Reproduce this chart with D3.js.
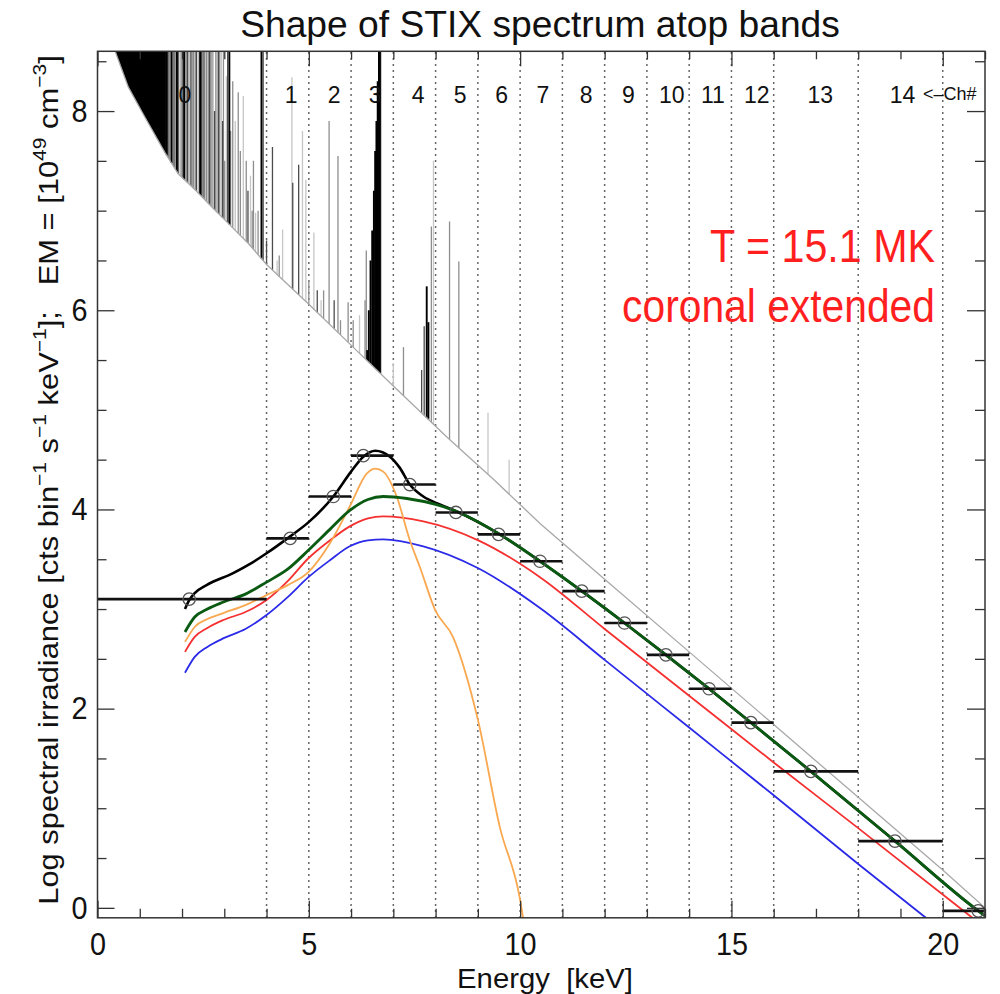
<!DOCTYPE html>
<html><head><meta charset="utf-8">
<script src="https://cdn.jsdelivr.net/npm/d3@7"></script>
<style>
body{margin:0;background:#fff}
svg{display:block}
text{font-family:"Liberation Sans",Arial,Helvetica,sans-serif}
</style>
</head><body>
<svg id="chart" width="1000" height="994"></svg>
<script>
// ---------------- data ----------------
const xMajorTicks = [0, 5, 10, 15, 20];
const xMinorTicks = [1,2,3,4,6,7,8,9,11,12,13,14,16,17,18,19,21];
const yMajorTicks = [0, 2, 4, 6, 8];
const yMinorTicks = [0.5,1,1.5,2.5,3,3.5,4.5,5,5.5,6.5,7,7.5,8.5];

const channelEdges = [4,5,6,7,8,9,10,11,12,13,14,15,16,18,20];
const channelNames = ["0","1","2","3","4","5","6","7","8","9","10","11","12","13","14"];
const channelLabelE = [2.07,4.58,5.60,6.57,7.59,8.58,9.56,10.54,11.56,12.56,13.59,14.56,15.60,17.10,19.05];

// measured counts per energy bin (log)
const binLo   = [0,4,5,6,7,8,9,10,11,12,13,14,15,16,18,20];
const binHi   = [4,5,6,7,8,9,10,11,12,13,14,15,16,18,20,21];
const binMeanE = [2.17,4.56,5.58,6.29,7.39,8.48,9.49,10.47,11.46,12.47,13.45,14.47,15.46,16.88,18.87,20.84];
const binCounts = [3.10,3.71,4.13,4.54,4.25,3.97,3.75,3.48,3.18,2.86,2.54,2.20,1.86,1.37,0.67,-0.03];

// continuum of the photon spectrum (lower envelope of the line spectrum)
const contE = [0.30,0.41,0.73,1.12,1.60,1.91,2.31,2.70,3.10,3.57,4.0,5.0,6.0,7.0,8.26,9.4,10.47,12.0,14.0,16.0,18.0,20.0,21.0];
const contV = [8.95,8.61,8.24,7.94,7.58,7.37,7.21,7.04,6.87,6.67,6.46,6.06,5.65,5.24,4.73,4.29,3.86,3.30,2.57,1.84,1.11,0.38,0.0];

// blended (saturated) low-energy line region
const blendedBand = [0.30, 1.62];

// individual emission lines: energy, peak (log), intensity class 0..3
const lineE = [1.66,1.72,1.78,1.88,1.95,2.02,2.10,2.18,2.24,2.31,
               2.38,2.43,2.55,2.62,2.68,2.74,2.86,2.93,2.98,3.05,
               3.12,3.20,3.33,3.45,3.52,3.62,3.69,3.74,3.80,3.88,
               3.92,4.14,4.25,4.38,4.60,4.62,4.76,4.85,4.93,5.12,
               5.29,5.48,5.69,5.93,6.33,6.36,6.38,6.42,6.46,6.50,
               6.54,6.57,6.60,6.63,6.66,6.68,6.70,7.00,7.24,7.67,
               7.73,7.79,7.83,7.90,7.95,8.33,8.55,9.24,9.74,
               1.64,1.69,1.75,1.81,1.84,1.91,1.98,2.05,2.07,2.13,
               2.15,2.21,2.27,2.34,2.41,2.46,2.49,2.52,2.58,2.65,
               2.71,2.77,2.80,2.83,2.89,2.96,3.01,3.08,3.15,3.26,
               3.38,3.56,3.66,4.00,4.30,5.00,5.20,5.35,5.60,5.75,
               6.05,6.20];
const lineTop = [8.6,8.6,8.6,8.6,8.6,8.6,8.6,8.6,8.6,8.6,
                 8.6,8.6,8.6,8.6,8.6,8.6,8.6,8.6,8.6,8.35,
                 8.6,8.3,8.19,8.15,7.5,7.35,7.5,6.98,7.0,8.6,
                 8.6,7.64,6.5,6.81,8.34,7.28,7.46,7.8,7.31,6.78,
                 6.1,7.9,7.55,6.08,6.1,6.6,5.6,6.0,6.5,6.8,
                 7.2,7.6,7.9,8.3,8.6,8.6,8.6,5.47,5.63,5.40,
                 5.84,6.24,5.88,6.84,7.5,6.89,6.49,4.97,4.5,
                 8.6,8.6,8.6,8.6,8.6,8.6,8.6,8.6,8.6,8.6,
                 8.6,8.6,8.6,8.6,8.6,8.6,8.6,8.6,8.6,8.6,
                 8.6,8.0,8.6,8.6,8.6,7.9,7.5,8.6,7.8,7.9,
                 7.6,7.2,7.0,6.7,6.55,6.3,6.2,6.2,6.1,5.9,
                 5.9,5.95];
const lineClass = [1,0,1,3,0,2,1,0,1,1,
                   0,3,0,1,1,0,2,0,1,0,
                   3,1,1,0,1,0,1,0,1,3,
                   2,2,0,0,0,2,2,0,0,0,
                   0,1,1,1,1,1,3,3,3,3,
                   3,3,3,3,3,3,2,0,1,2,
                   2,3,3,1,0,1,1,0,0,
                   3,2,3,2,1,2,1,3,1,2,
                   0,2,1,2,1,2,1,2,1,2,
                   1,2,1,0,1,2,1,2,1,0,
                   1,2,1,2,1,1,2,1,2,1,
                   1,0];

// model count spectra (keV, log)
const totalCurve = [[2.07,3.00],[2.17,3.09],[2.30,3.16],[2.58,3.24],[3.21,3.36],[3.60,3.45],[4.00,3.56],[4.56,3.73],[4.99,3.87],[5.58,4.13],[6.00,4.38],[6.29,4.53],[6.57,4.59],[6.92,4.53],[7.15,4.42],[7.39,4.25],[7.71,4.13],[8.10,4.05],[8.50,3.98],[9.48,3.76],[10.47,3.48],[11.46,3.18],[12.47,2.86],[13.45,2.54],[14.47,2.20],[15.46,1.86],[16.88,1.37],[18.87,0.67],[20.84,-0.03],[21.0,-0.08]];
const greenCurve = [[2.07,2.77],[2.30,2.92],[2.60,3.00],[2.98,3.07],[3.50,3.15],[4.00,3.27],[4.50,3.40],[4.99,3.59],[5.50,3.80],[5.97,3.99],[6.40,4.10],[6.76,4.13],[7.32,4.11],[8.00,4.05],[8.50,3.98],[9.48,3.76],[10.47,3.48],[11.46,3.18],[12.47,2.86],[13.45,2.54],[14.47,2.20],[15.46,1.86],[16.88,1.37],[18.87,0.67],[20.84,-0.03],[21.0,-0.08]];
const redCurve = [[2.07,2.57],[2.30,2.72],[2.60,2.81],[2.98,2.89],[3.50,2.97],[4.00,3.09],[4.50,3.28],[4.99,3.51],[5.50,3.69],[5.97,3.83],[6.40,3.91],[6.76,3.93],[7.71,3.88],[9.01,3.69],[10.47,3.32],[12.0,2.80],[14.0,2.13],[16.0,1.46],[18.0,0.80],[20.7,-0.10]];
const blueCurve = [[2.07,2.36],[2.30,2.52],[2.60,2.62],[3.00,2.71],[3.50,2.80],[4.00,2.94],[4.50,3.12],[4.99,3.32],[5.50,3.49],[5.97,3.63],[6.40,3.69],[6.76,3.70],[7.71,3.63],[9.01,3.41],[10.47,3.01],[12.0,2.49],[14.0,1.81],[16.0,1.13],[18.0,0.44],[19.6,-0.10]];
const orangeCurve = [[2.07,2.67],[2.30,2.82],[2.60,2.90],[2.98,2.96],[3.50,3.04],[4.00,3.14],[4.50,3.24],[4.99,3.37],[5.50,3.66],[5.97,4.03],[6.37,4.36],[6.57,4.41],[6.76,4.38],[7.08,4.13],[7.39,3.69],[7.63,3.42],[7.99,2.99],[8.41,2.72],[9.00,1.89],[9.52,0.81],[10.00,0.08],[10.07,-0.10]];

const titleText = "Shape of STIX spectrum atop bands";
const xLabelText = "Energy  [keV]";
const yLabelParts = [["Log spectral irradiance [cts bin",0],["\u22121",1],[" s",0],["\u22121",1],[" keV",0],["\u22121",1],["];   EM = [10",0],["49",1],[" cm",0],["\u22123",1],["]",0]];
const annot1 = "T = 15.1 MK";
const annot2 = "coronal extended";
const chArrowText = "<\u2013Ch#";

// ---------------- drawing ----------------
const svg = d3.select("#chart");
const L = 97.5, R = 985, T = 51.3, B = 917.8;
const x = d3.scaleLinear().domain([0, 21]).range([L, R]);
const y = d3.scaleLinear().domain([-0.1, 8.6]).range([B, T]);
const cont = d3.scaleLinear().domain(contE).range(contV);
const shade = d3.scaleOrdinal().domain([0,1,2,3]).range(["#c6c6c6","#8e8e8e","#4c4c4c","#000000"]);

svg.append("defs").append("clipPath").attr("id","plotclip")
  .append("rect").attr("x",L).attr("y",T).attr("width",R-L).attr("height",B-T);

const plot = svg.append("g").attr("clip-path","url(#plotclip)");

// channel boundaries (dotted)
plot.selectAll("line.edge").data(channelEdges).join("line")
  .attr("class","edge")
  .attr("x1",d=>x(d)).attr("x2",d=>x(d))
  .attr("y1",B).attr("y2",T)
  .attr("stroke","#333").attr("stroke-width",1.5)
  .attr("stroke-dasharray","1.6,4.4");

// blended saturated line region
const bandKnots = [blendedBand[0]].concat(contE.filter(e=>e>blendedBand[0] && e<blendedBand[1]), [blendedBand[1]]);
plot.append("path").datum(bandKnots)
  .attr("d", d3.area().x(d=>x(d)).y0(d=>y(cont(d))).y1(y(8.7)))
  .attr("fill","#000");

// individual lines (lighter first, darker on top)
const lines = lineE.map((e,i)=>({e, top:lineTop[i], c:lineClass[i]}))
  .sort((a,b)=>d3.ascending(a.c,b.c));
plot.selectAll("line.spec").data(lines).join("line")
  .attr("class","spec")
  .attr("x1",d=>x(d.e)).attr("x2",d=>x(d.e))
  .attr("y1",d=>y(cont(d.e))).attr("y2",d=>y(Math.min(d.top,8.7)))
  .attr("stroke",d=>shade(d.c))
  .attr("stroke-width",d=>d.c===3?1.9:1.3);

// continuum
plot.append("path").datum(contE.map((e,i)=>[e,contV[i]]))
  .attr("d", d3.line().x(d=>x(d[0])).y(d=>y(d[1])))
  .attr("fill","none").attr("stroke","#a8a8a8").attr("stroke-width",1.3);

// model curves
const lineGen = d3.line().x(d=>x(d[0])).y(d=>y(d[1])).curve(d3.curveMonotoneX);
const curves = [
  {d:blueCurve, c:"#2a2ae8", w:1.8},
  {d:redCurve, c:"#f53030", w:1.8},
  {d:orangeCurve, c:"#f9a84f", w:1.8},
  {d:totalCurve, c:"#000000", w:2.6},
  {d:greenCurve, c:"#0a5a12", w:2.8}
];
plot.selectAll("path.model").data(curves).join("path")
  .attr("class","model")
  .attr("d",d=>lineGen(d.d))
  .attr("fill","none").attr("stroke",d=>d.c).attr("stroke-width",d=>d.w);

// measured bins
const bins = binLo.map((lo,i)=>({lo, hi:binHi[i], e:binMeanE[i], v:binCounts[i]}));
plot.selectAll("line.bin").data(bins).join("line")
  .attr("class","bin")
  .attr("x1",d=>x(d.lo)).attr("x2",d=>x(d.hi))
  .attr("y1",d=>y(d.v)).attr("y2",d=>y(d.v))
  .attr("stroke","#111").attr("stroke-width",2.6);
plot.selectAll("circle.pt").data(bins).join("circle")
  .attr("class","pt")
  .attr("cx",d=>x(d.e)).attr("cy",d=>y(d.v)).attr("r",6.2)
  .attr("fill","none").attr("stroke","#555").attr("stroke-width",1.3);

// axes
const tickFont = 32, tickSqueeze = 0.9;
function styleAxis(g){
  g.select(".domain").remove();
  g.selectAll(".tick line").attr("stroke","#333").attr("stroke-width",1.3);
  g.selectAll(".tick text").attr("font-size",tickFont).attr("fill","#111")
   .attr("font-family",'"Liberation Sans",Arial,sans-serif')
   .each(function(){
     const t = d3.select(this);
     const x0 = +t.attr("x") || 0;
     t.attr("x", x0/tickSqueeze).attr("transform",`scale(${tickSqueeze},1)`);
   });
}
svg.append("g").attr("transform",`translate(0,${B})`)
  .call(d3.axisBottom(x).tickValues(xMajorTicks).tickFormat(d3.format("d")).tickSizeInner(-17).tickSizeOuter(0).tickPadding(14.5))
  .call(styleAxis);
svg.append("g").attr("transform",`translate(0,${B})`)
  .call(d3.axisBottom(x).tickValues(xMinorTicks).tickFormat("").tickSizeInner(-9).tickSizeOuter(0))
  .call(styleAxis);
svg.append("g").attr("transform",`translate(0,${T})`)
  .call(d3.axisTop(x).tickValues(xMajorTicks).tickFormat("").tickSizeInner(-15).tickSizeOuter(0))
  .call(styleAxis);
svg.append("g").attr("transform",`translate(0,${T})`)
  .call(d3.axisTop(x).tickValues(xMinorTicks).tickFormat("").tickSizeInner(-8).tickSizeOuter(0))
  .call(styleAxis);
svg.append("g").attr("transform",`translate(${L},0)`)
  .call(d3.axisLeft(y).tickValues(yMajorTicks).tickFormat(d3.format("d")).tickSizeInner(-17).tickSizeOuter(0).tickPadding(10))
  .call(styleAxis);
svg.append("g").attr("transform",`translate(${L},0)`)
  .call(d3.axisLeft(y).tickValues(yMinorTicks).tickFormat("").tickSizeInner(-9).tickSizeOuter(0))
  .call(styleAxis);
svg.append("g").attr("transform",`translate(${R},0)`)
  .call(d3.axisRight(y).tickValues(yMajorTicks).tickFormat("").tickSizeInner(-18).tickSizeOuter(0))
  .call(styleAxis);
svg.append("g").attr("transform",`translate(${R},0)`)
  .call(d3.axisRight(y).tickValues(yMinorTicks).tickFormat("").tickSizeInner(-10).tickSizeOuter(0))
  .call(styleAxis);

// frame
svg.append("rect").attr("x",L).attr("y",T).attr("width",R-L).attr("height",B-T)
  .attr("fill","none").attr("stroke","#333").attr("stroke-width",1.5);

// channel numbers
svg.selectAll("text.ch").data(channelNames).join("text")
  .attr("class","ch")
  .attr("x",(d,i)=>x(channelLabelE[i])).attr("y",102.5)
  .attr("text-anchor","middle").attr("font-size",23).attr("fill","#111")
  .text(d=>d);
svg.append("text").attr("x",923).attr("y",100).attr("font-size",18).attr("fill","#111").text(chArrowText);

// fitted text helper
function fitText(str, opt){
  const g = svg.append("g").attr("transform",`translate(${opt.x},${opt.y})`+(opt.rotate?` rotate(${opt.rotate})`:""));
  const t = g.append("text").attr("font-size",opt.size).attr("text-anchor",opt.anchor||"middle")
    .attr("fill",opt.fill||"#111").style("white-space","pre");
  if (Array.isArray(str)) {
    const supShift = opt.size*0.42;
    str.forEach(([s,sup],i)=>{
      const prevSup = i>0 ? str[i-1][1] : 0;
      const ts = t.append("tspan").text(s);
      if (sup) ts.attr("font-size",opt.size*0.68).attr("dy",-supShift);
      else { ts.attr("font-size",opt.size); if (prevSup) ts.attr("dy",supShift); }
    });
  } else t.text(str);
  const w = t.node().getBBox().width;
  if (opt.width) t.attr("transform",`scale(${opt.width/w},1)`);
  return t;
}

fitText(titleText,{x:540,y:37,size:37,width:600});
fitText(xLabelText,{x:545,y:988,size:28,width:176});
fitText(yLabelParts,{x:58,y:480,size:28,width:850,rotate:-90});
fitText(annot1,{x:935,y:262,size:47,width:225,anchor:"end",fill:"#ff1f1f"});
fitText(annot2,{x:935,y:322,size:47,width:313,anchor:"end",fill:"#ff1f1f"});
</script>
</body></html>
